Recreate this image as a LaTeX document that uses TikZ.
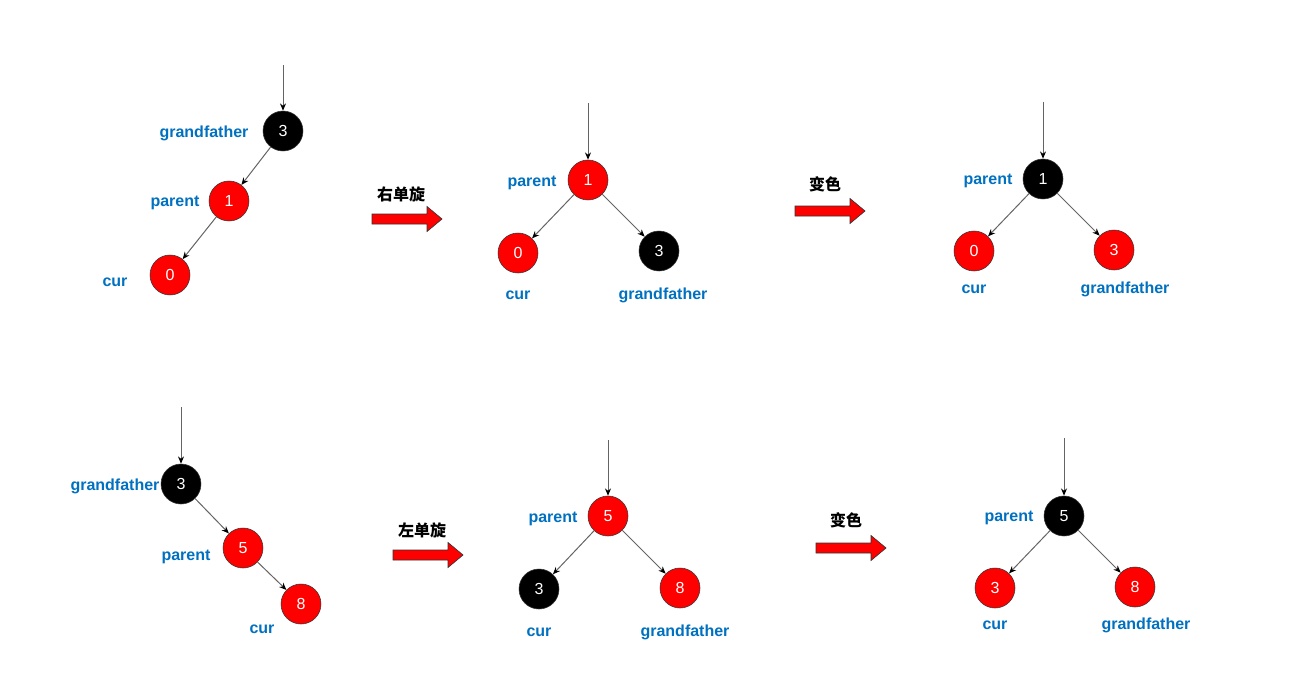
\documentclass[tikz,border=0pt]{standalone}
\usepackage{fontspec}
\setmainfont{Liberation Sans}
\newfontfamily\cjk{Noto Sans CJK SC}
\usetikzlibrary{arrows.meta}
\definecolor{labelblue}{RGB}{0,112,192}
\definecolor{edgegray}{RGB}{100,100,100}

\begin{document}
\begin{tikzpicture}[
  x=0.75pt, y=-0.75pt,
  every node/.style={font=\fontsize{12}{14}\selectfont},
  rednode/.style={
    circle, draw=black!80, fill=red, text=white,
    minimum size=30pt, inner sep=0pt,
    font=\fontsize{12}{14}\selectfont
  },
  blacknode/.style={rednode, fill=black},
  role/.style={text=labelblue, yshift=-1.5pt, font=\fontsize{12}{14}\selectfont\bfseries},
  action/.style={font=\fontsize{12}{14}\selectfont\cjk\bfseries},
  edge/.style={-{Stealth[length=5.5pt, width=4.5pt, color=black]}, draw=edgegray, line width=0.75pt},
  redarrow/.pic={
    \draw[draw=black!80, fill=red, line width=0.5pt]
      (0,-5) -- (55,-5) -- (55,-12.5) -- (70,0) -- (55,12.5) -- (55,5) -- (0,5) -- cycle;
  }
]
  \useasboundingbox (0,0) rectangle (1295,686);

  % Zeile 1: rechts drehen
  \coordinate (t1) at (283,65);
  \node[blacknode] (g1) at (283,131) {3};
  \node[rednode]   (p1) at (229,201) {1};
  \node[rednode]   (c1) at (170,275) {0};
  \node[role] at (204,131) {grandfather};
  \node[role] at (175,201) {parent};
  \node[role] at (115,280) {cur};
  \draw[edge] (t1) -- (g1);
  \draw[edge] (g1) -- (p1);
  \draw[edge] (p1) -- (c1);

  \pic at (372,219) {redarrow};
  \node[action] (rot1) at (401,194) {右单旋};

  \coordinate (t2) at (588,103);
  \node[rednode]   (p2) at (588,180) {1};
  \node[rednode]   (c2) at (518,253) {0};
  \node[blacknode] (g2) at (659,251) {3};
  \node[role] at (532,181) {parent};
  \node[role] at (518,293) {cur};
  \node[role] at (663,293) {grandfather};
  \draw[edge] (t2) -- (p2);
  \draw[edge] (p2) -- (c2);
  \draw[edge] (p2) -- (g2);

  \pic at (795,211) {redarrow};
  \node[action] (col1) at (825,184) {变色};

  \coordinate (t3) at (1043,102);
  \node[blacknode] (p3) at (1043,179) {1};
  \node[rednode]   (c3) at (974,251) {0};
  \node[rednode]   (g3) at (1114,250) {3};
  \node[role] at (988,179) {parent};
  \node[role] at (974,287) {cur};
  \node[role] at (1125,287) {grandfather};
  \draw[edge] (t3) -- (p3);
  \draw[edge] (p3) -- (c3);
  \draw[edge] (p3) -- (g3);

  % Zeile 2: links drehen
  \coordinate (t4) at (181,407);
  \node[blacknode] (g4) at (181,484) {3};
  \node[rednode]   (p4) at (243,548) {5};
  \node[rednode]   (c4) at (301,604) {8};
  \node[role] at (115,484) {grandfather};
  \node[role] at (186,555) {parent};
  \node[role] at (262,627) {cur};
  \draw[edge] (t4) -- (g4);
  \draw[edge] (g4) -- (p4);
  \draw[edge] (p4) -- (c4);

  \pic at (393,555) {redarrow};
  \node[action] (rot2) at (422,530) {左单旋};

  \coordinate (t5) at (608,440);
  \node[rednode]   (p5) at (608,516) {5};
  \node[blacknode] (g5) at (539,589) {3};
  \node[rednode]   (c5) at (680,588) {8};
  \node[role] at (553,517) {parent};
  \node[role] at (539,630) {cur};
  \node[role] at (685,630) {grandfather};
  \draw[edge] (t5) -- (p5);
  \draw[edge] (p5) -- (g5);
  \draw[edge] (p5) -- (c5);

  \pic at (816,548) {redarrow};
  \node[action] (col2) at (846,520) {变色};

  \coordinate (t6) at (1064,438);
  \node[blacknode] (p6) at (1064,516) {5};
  \node[rednode]   (g6) at (995,588) {3};
  \node[rednode]   (c6) at (1135,587) {8};
  \node[role] at (1009,516) {parent};
  \node[role] at (995,623) {cur};
  \node[role] at (1146,623) {grandfather};
  \draw[edge] (t6) -- (p6);
  \draw[edge] (p6) -- (g6);
  \draw[edge] (p6) -- (c6);

\end{tikzpicture}
\end{document}
